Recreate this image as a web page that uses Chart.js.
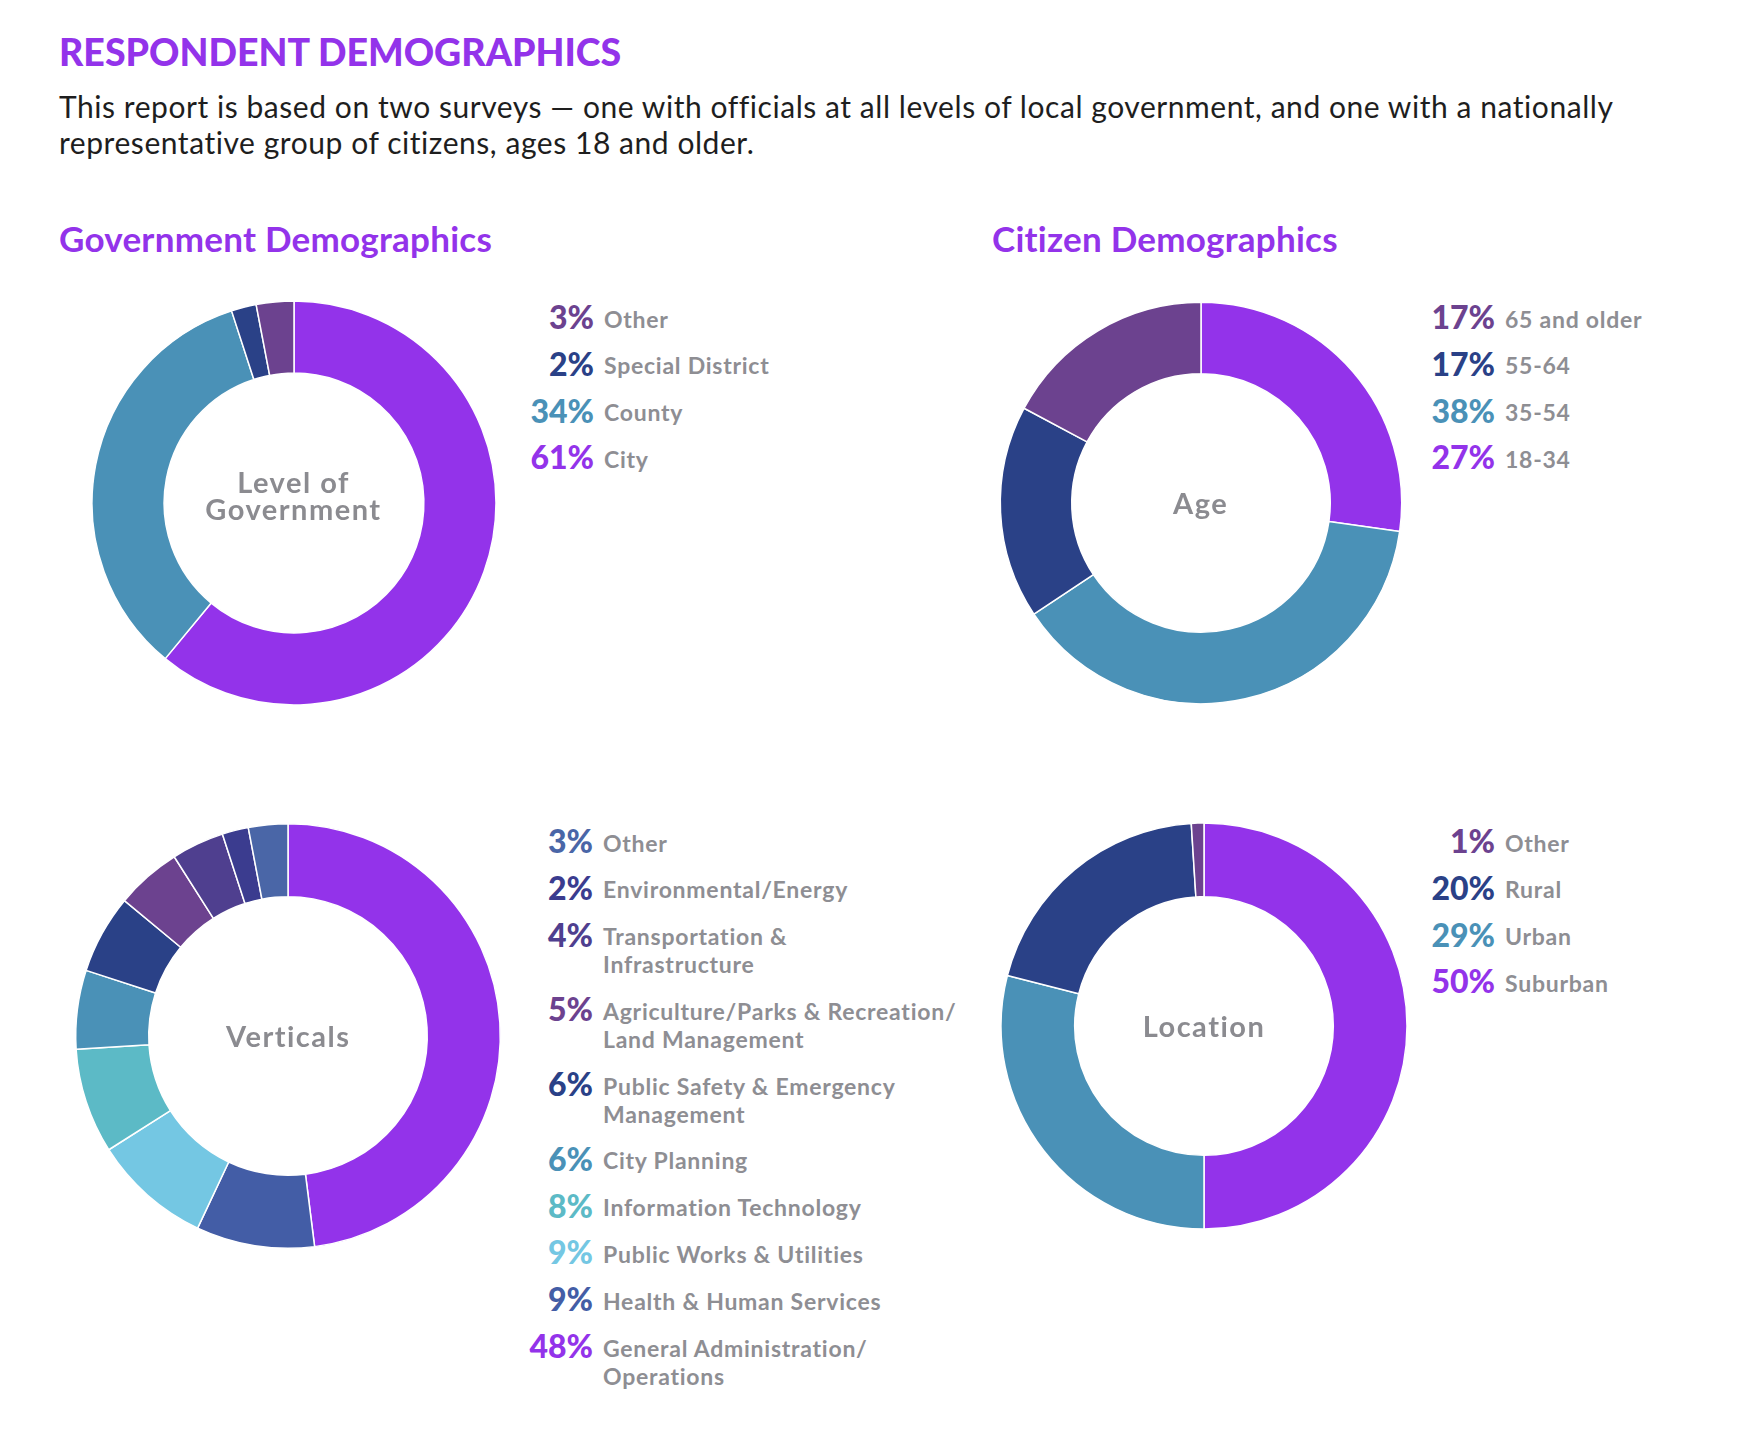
<!DOCTYPE html>
<html><head><meta charset="utf-8">
<script src="https://cdn.jsdelivr.net/npm/chart.js@4.4.1/dist/chart.umd.min.js"></script>
<style>
html,body{margin:0;padding:0;background:#fff;}
body{width:1748px;height:1430px;position:relative;overflow:hidden;font-family:Lato,"Open Sans",sans-serif;}
.abs{position:absolute;white-space:nowrap;}
#title{left:59px;top:32.5px;font-size:37.5px;line-height:37.5px;font-weight:900;color:#9333ea;}
#sub{left:59px;top:89px;font-size:30px;line-height:35.5px;color:#1e1e1e;font-weight:400;letter-spacing:0.55px;}
.h2{font-size:35px;line-height:35px;font-weight:700;color:#9333ea;top:221px;letter-spacing:0.25px;}
.center{font-weight:700;color:#8b8b90;font-size:29px;line-height:27.3px;text-align:center;letter-spacing:1.5px;}
.legend{position:absolute;}
.legend .row{position:relative;font-size:23px;line-height:28px;font-weight:700;color:#8e8e93;margin-bottom:18.8px;white-space:pre;letter-spacing:0.75px;}
.legend .pct{position:absolute;top:-1.6px;right:calc(100% + 10px);font-size:32px;line-height:28px;font-weight:900;letter-spacing:0;}
canvas{position:absolute;}
</style>
</head>
<body>
<div id="title" class="abs">RESPONDENT DEMOGRAPHICS</div>
<div id="sub" class="abs">This report is based on two surveys — one with officials at all levels of local government, and one with a nationally<br>representative group of citizens, ages 18 and older.</div>
<div class="abs h2" style="left:59px">Government Demographics</div>
<div class="abs h2" style="left:992px">Citizen Demographics</div>
<script>
// ---------- DATA ----------
const govLabels = ['City', 'County', 'Special District', 'Other'];
const govValues = [61, 34, 2, 3];
const govColors = ['#9333ea', '#4a91b7', '#2a4187', '#6c428f'];

const ageLabels = ['18-34', '35-54', '55-64', '65 and older'];
const ageValues = [27, 38, 17, 17];
const ageColors = ['#9333ea', '#4a91b7', '#2a4187', '#6c428f'];

const vertLabels = ['General Administration/\nOperations', 'Health & Human Services', 'Public Works & Utilities',
  'Information Technology', 'City Planning', 'Public Safety & Emergency\nManagement',
  'Agriculture/Parks & Recreation/\nLand Management', 'Transportation &\nInfrastructure',
  'Environmental/Energy', 'Other'];
const vertValues = [48, 9, 9, 8, 6, 6, 5, 4, 2, 3];
const vertColors = ['#9333ea', '#435da6', '#74c7e3', '#5cbac6', '#4a91b7', '#2a4187', '#6c428f', '#4f3f8f', '#3b3c8f', '#4a66a7'];

const locLabels = ['Suburban', 'Urban', 'Rural', 'Other'];
const locValues = [50, 29, 20, 1];
const locColors = ['#9333ea', '#4a91b7', '#2a4187', '#6c428f'];

const centerTitles = { gov: ['Level of', 'Government'], age: ['Age'], vert: ['Verticals'], loc: ['Location'] };

// ---------- LAYOUT ----------
const panels = [
  { key: 'gov', labels: govLabels, values: govValues, colors: govColors, cx: 293.5, cy: 503.4, R: 202, cut: '64.3%', legendX: 604, legendBase: 327.5, centerBase: 492.7 },
  { key: 'age', labels: ageLabels, values: ageValues, colors: ageColors, cx: 1200.6, cy: 503.3, R: 200.7, cut: '64.4%', legendX: 1505, legendBase: 327.5, centerBase: 513.8 },
  { key: 'vert', labels: vertLabels, values: vertValues, colors: vertColors, cx: 288.3, cy: 1036.2, R: 212.3, cut: '65.6%', legendX: 603, legendBase: 851.5, centerBase: 1046.7 },
  { key: 'loc', labels: locLabels, values: locValues, colors: locColors, cx: 1204, cy: 1026, R: 203, cut: '63.7%', legendX: 1505, legendBase: 851.5, centerBase: 1036.5 }
];

panels.forEach(p => {
  const S = 2 * Math.ceil(p.R) + 6;
  const cv = document.createElement('canvas');
  cv.width = S; cv.height = S;
  cv.style.left = (p.cx - S / 2) + 'px';
  cv.style.top = (p.cy - S / 2) + 'px';
  cv.style.width = S + 'px'; cv.style.height = S + 'px';
  document.body.appendChild(cv);
  new Chart(cv.getContext('2d'), {
    type: 'doughnut',
    data: { labels: p.labels, datasets: [{ data: p.values, backgroundColor: p.colors, borderColor: '#ffffff', borderWidth: 1.5, hoverOffset: 0 }] },
    options: {
      responsive: false, animation: false, radius: p.R, cutout: p.cut,
      layout: { padding: 0 },
      plugins: { legend: { display: false }, tooltip: { enabled: false }, title: { display: false } }
    }
  });

  // center label
  const c = document.createElement('div');
  c.className = 'abs center';
  c.innerHTML = centerTitles[p.key].join('<br>');
  c.style.width = '300px';
  c.style.left = (p.cx - 150) + 'px';
  c.style.top = (p.centerBase - 24.85) + 'px';
  document.body.appendChild(c);

  // legend (reverse order, as in reference)
  const lg = document.createElement('div');
  lg.className = 'legend';
  lg.style.left = p.legendX + 'px';
  lg.style.top = (p.legendBase - 23) + 'px';
  for (let i = p.labels.length - 1; i >= 0; i--) {
    const row = document.createElement('div');
    row.className = 'row';
    row.textContent = p.labels[i];
    const pct = document.createElement('span');
    pct.className = 'pct';
    pct.style.color = p.colors[i];
    pct.textContent = p.values[i] + '%';
    row.appendChild(pct);
    lg.appendChild(row);
  }
  document.body.appendChild(lg);
});
</script>
</body></html>
